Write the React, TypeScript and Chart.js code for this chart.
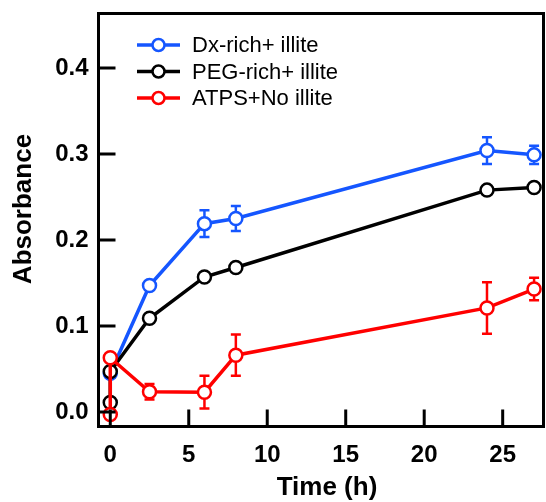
import React, { useEffect, useRef } from "react";
import { Chart, registerables } from "chart.js";

Chart.register(...registerables);

// ---- data ----
const seriesNames = ["Dx-rich+ illite", "PEG-rich+ illite", "ATPS+No illite"];
const seriesColors = ["#1556ff", "#000000", "#ff0000"];

const dxTime = [0, 2.5, 6, 8, 24, 27];
const dxAbs = [0.045, 0.147, 0.219, 0.225, 0.304, 0.299];
const dxErr = [0, 0, 0.0155, 0.0145, 0.0155, 0.0105];

const pegTime = [0, 0, 2.5, 6, 8, 24, 27];
const pegAbs = [0.011, 0.047, 0.109, 0.157, 0.168, 0.258, 0.261];
const pegErr = [0, 0, 0, 0, 0, 0, 0];

const atpsTime = [0, 0, 2.5, 6, 8, 24, 27];
const atpsAbs = [-0.003, 0.063, 0.0235, 0.023, 0.066, 0.121, 0.143];
const atpsErr = [0, 0, 0.009, 0.019, 0.024, 0.03, 0.013];

const xTickValues = [0, 5, 10, 15, 20, 25];
const yTickValues = [0.0, 0.1, 0.2, 0.3, 0.4];
const xTitle = "Time (h)";
const yTitle = "Absorbance";

const FONT = "'Liberation Sans', Arial, sans-serif";

const errs = [dxErr, pegErr, atpsErr];

const errorBarPlugin = {
  id: "errorBars",
  beforeDatasetsDraw(chart: any) {
    const ctx = chart.ctx;
    const xs = chart.scales.x;
    const ys = chart.scales.y;
    chart.data.datasets.forEach((ds: any, i: number) => {
      const e = errs[i];
      ctx.save();
      ctx.strokeStyle = seriesColors[i];
      ctx.lineWidth = 2.5;
      ds.data.forEach((p: any, j: number) => {
        const err = e[j];
        if (!err) return;
        const px = xs.getPixelForValue(p.x);
        const y1 = ys.getPixelForValue(p.y + err);
        const y2 = ys.getPixelForValue(p.y - err);
        ctx.beginPath();
        ctx.moveTo(px, y1);
        ctx.lineTo(px, y2);
        ctx.moveTo(px - 5, y1);
        ctx.lineTo(px + 5, y1);
        ctx.moveTo(px - 5, y2);
        ctx.lineTo(px + 5, y2);
        ctx.stroke();
      });
      ctx.restore();
    });
  },
};

const framePlugin = {
  id: "frame",
  afterDraw(chart: any) {
    const ctx = chart.ctx;
    const { left, right, top, bottom } = chart.chartArea;
    const xs = chart.scales.x;
    const ys = chart.scales.y;
    ctx.save();
    ctx.strokeStyle = "#000";
    ctx.lineWidth = 3;
    ctx.strokeRect(left, top, right - left, bottom - top);
    ctx.beginPath();
    xTickValues.forEach((v) => {
      const px = xs.getPixelForValue(v);
      ctx.moveTo(px, bottom);
      ctx.lineTo(px, bottom - 17);
    });
    yTickValues.forEach((v) => {
      const py = ys.getPixelForValue(v);
      ctx.moveTo(left, py);
      ctx.lineTo(left + 17, py);
    });
    ctx.stroke();

    // axis titles
    ctx.fillStyle = "#000";
    ctx.font = `bold 26px ${FONT}`;
    ctx.textAlign = "center";
    ctx.textBaseline = "middle";
    ctx.fillText(xTitle, 327, 488);
    ctx.translate(24, 209);
    ctx.rotate(-Math.PI / 2);
    ctx.fillText(yTitle, 0, 0);
    ctx.restore();

    // legend
    ctx.save();
    const lx = left + 38.5;
    const rows = [45, 71.5, 98];
    seriesNames.forEach((name, i) => {
      const y = rows[i];
      ctx.strokeStyle = seriesColors[i];
      ctx.lineWidth = 3.5;
      ctx.beginPath();
      ctx.moveTo(lx, y);
      ctx.lineTo(lx + 43, y);
      ctx.stroke();
      ctx.beginPath();
      ctx.lineWidth = 2.5;
      ctx.fillStyle = "#fff";
      ctx.arc(lx + 21.5, y, 6, 0, Math.PI * 2);
      ctx.fill();
      ctx.stroke();
      ctx.fillStyle = "#000";
      ctx.font = `22px ${FONT}`;
      ctx.textAlign = "left";
      ctx.textBaseline = "middle";
      ctx.fillText(name, lx + 55, y + 1);
    });
    ctx.restore();
  },
};

function mk(xsArr: number[], ysArr: number[]) {
  return xsArr.map((x, i) => ({ x, y: ysArr[i] }));
}

function zeroPad(s: any) {
  s.paddingTop = 0;
  s.paddingBottom = 0;
  s.paddingLeft = 0;
  s.paddingRight = 0;
}

export default function App() {
  const ref = useRef<HTMLCanvasElement>(null);
  useEffect(() => {
    if (!ref.current) return;
    const dsCommon = {
      showLine: true,
      borderWidth: 3.5,
      pointRadius: 6.5,
      pointBorderWidth: 2.5,
      pointBackgroundColor: "#ffffff",
      clip: false as any,
      tension: 0,
    };
    const chart = new Chart(ref.current, {
      type: "scatter",
      data: {
        datasets: [
          { ...dsCommon, label: seriesNames[0], data: mk(dxTime, dxAbs), borderColor: seriesColors[0], pointBorderColor: seriesColors[0], order: 2 },
          { ...dsCommon, label: seriesNames[1], data: mk(pegTime, pegAbs), borderColor: seriesColors[1], pointBorderColor: seriesColors[1], order: 1 },
          { ...dsCommon, label: seriesNames[2], data: mk(atpsTime, atpsAbs), borderColor: seriesColors[2], pointBorderColor: seriesColors[2], order: 0 },
        ],
      },
      options: {
        animation: false,
        responsive: true,
        maintainAspectRatio: false,
        layout: { autoPadding: false, padding: { top: 13.5, right: 2.5, left: 0, bottom: 0 } },
        plugins: { legend: { display: false }, tooltip: { enabled: false } },
        scales: {
          x: {
            type: "linear",
            min: -0.75,
            max: 27.6,
            grid: { display: false, drawTicks: false },
            border: { display: false },
            afterBuildTicks: (s: any) => {
              s.ticks = xTickValues.map((v) => ({ value: v }));
            },
            afterFit: (s: any) => {
              s.height = 75.5;
              zeroPad(s);
            },
            ticks: {
              padding: 14,
              color: "#000",
              font: { family: FONT, size: 24, weight: "bold" },
              callback: (v: any) => String(v),
              maxRotation: 0,
            },
          },
          y: {
            type: "linear",
            min: -0.0169,
            max: 0.4634,
            grid: { display: false, drawTicks: false },
            border: { display: false },
            afterBuildTicks: (s: any) => {
              s.ticks = yTickValues.map((v) => ({ value: v }));
            },
            afterFit: (s: any) => {
              s.width = 98.5;
              zeroPad(s);
            },
            ticks: {
              padding: 10,
              color: "#000",
              font: { family: FONT, size: 24, weight: "bold" },
              callback: (v: any) => Number(v).toFixed(1),
            },
          },
        },
      },
      plugins: [errorBarPlugin, framePlugin],
    });
    return () => chart.destroy();
  }, []);
  return (
    <div style={{ position: "absolute", left: 0, top: 0, width: 546, height: 502, background: "#fff" }}>
      <canvas ref={ref} />
    </div>
  );
}
